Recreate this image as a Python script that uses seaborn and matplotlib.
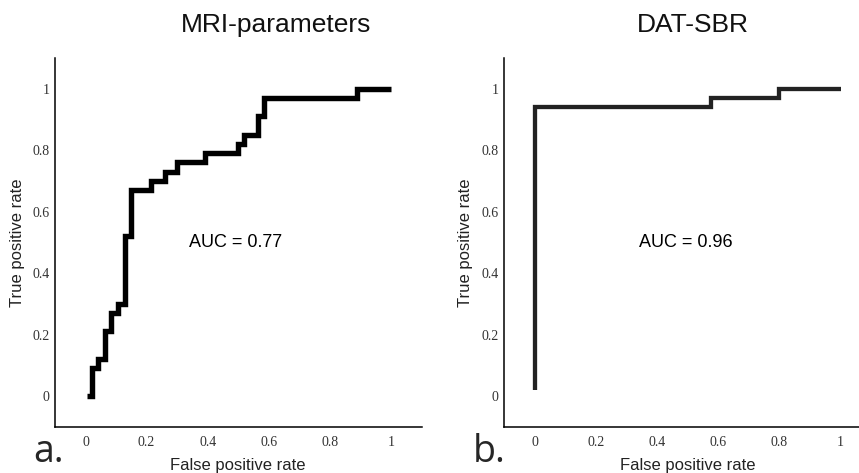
import pandas as pd
import matplotlib
matplotlib.use("Agg")
import matplotlib.pyplot as plt
import seaborn as sns

# ROC curves (step points: x where the curve jumps, new y)
mri_fpr = [0.005, 0.02, 0.04, 0.065, 0.085, 0.105, 0.13, 0.15, 0.215, 0.26, 0.30, 0.39, 0.50, 0.52, 0.565, 0.585, 0.89, 1.0]
mri_tpr = [0.0, 0.09, 0.12, 0.21, 0.27, 0.30, 0.52, 0.67, 0.70, 0.73, 0.76, 0.79, 0.82, 0.85, 0.91, 0.97, 1.0, 1.0]
dat_fpr = [0.0, 0.0, 0.575, 0.80, 1.0]
dat_tpr = [0.02, 0.94, 0.97, 1.0, 1.0]

titles = ["MRI-parameters", "DAT-SBR"]
auc_labels = ["AUC = 0.77", "AUC = 0.96"]
panel_letters = ["a.", "b."]
ticks = [0, 0.2, 0.4, 0.6, 0.8, 1]
tick_labels = ["0", "0.2", "0.4", "0.6", "0.8", "1"]

sns.set_style("white")
plt.rcParams["font.family"] = ["Liberation Sans", "DejaVu Sans"]

fig = plt.figure(figsize=(8.59, 4.73), dpi=100)
ax_a = fig.add_axes([0.0640, 0.0979, 0.4267, 0.7795])
ax_b = fig.add_axes([0.5867, 0.0979, 0.4276, 0.7795])

curves = [
    (ax_a, pd.DataFrame({"fpr": mri_fpr, "tpr": mri_tpr}), "black", 3.9),
    (ax_b, pd.DataFrame({"fpr": dat_fpr, "tpr": dat_tpr}), "#222222", 3.1),
]

for i, (ax, df, color, lw) in enumerate(curves):
    sns.lineplot(data=df, x="fpr", y="tpr", ax=ax, estimator=None, sort=False,
                 drawstyle="steps-post", color=color, linewidth=lw,
                 solid_joinstyle="miter", solid_capstyle="butt")
    ax.set_xlim(-0.1, 1.1)
    ax.set_ylim(-0.1, 1.1)
    ax.set_xticks(ticks)
    ax.set_yticks(ticks)
    ax.set_xticklabels(tick_labels, family="Liberation Serif", fontsize=10, color="#333333")
    ax.set_yticklabels(tick_labels, family="Liberation Serif", fontsize=10, color="#333333")
    ax.tick_params(direction="in", length=3, width=1, color="black", pad=7)
    ax.tick_params(axis="y", pad=4)
    sns.despine(ax=ax)
    for s in ["left", "bottom"]:
        ax.spines[s].set_linewidth(1.1)
        ax.spines[s].set_color("black")
    ax.set_xlabel("False positive rate", fontsize=12, color="#222222")
    ax.set_ylabel("True positive rate", fontsize=12, color="#222222")
    ax.xaxis.set_label_coords(0.5, -0.085)
    ax.yaxis.set_label_coords(-0.083, 0.5)
    ax.text(0.34, 0.5, auc_labels[i], fontsize=13, va="center", ha="left", color="black")

fig.text(276 / 859, 1 - 25 / 473, titles[0], fontsize=19, ha="center", va="center", color="#111111")
fig.text(693 / 859, 1 - 25 / 473, titles[1], fontsize=19, ha="center", va="center", color="#111111")
fig.text(33 / 859, 1 - 452 / 473, panel_letters[0], fontsize=27, family="Open Sans", ha="left", va="center")
fig.text(473 / 859, 1 - 452 / 473, panel_letters[1], fontsize=27, family="Open Sans", ha="left", va="center")

fig.savefig("out.png", dpi=100)
